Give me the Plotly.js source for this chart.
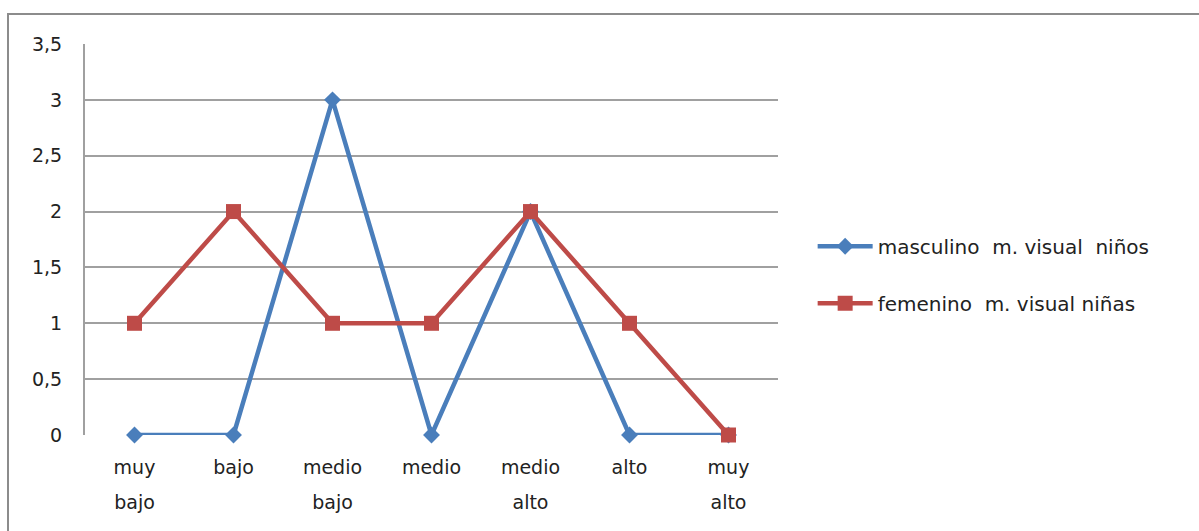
<!DOCTYPE html>
<html>
<head>
<meta charset="utf-8">
<script src="https://cdn.plot.ly/plotly-3.0.1.min.js"></script>
<style>
html,body{margin:0;padding:0;background:#fff;}
#wrap{position:relative;width:1199px;height:531px;overflow:hidden;}
#chart{position:absolute;left:0;top:0;width:1199px;height:531px;}
#frame{position:absolute;left:7px;top:13px;width:1300px;height:600px;border-left:2px solid #8c8c8c;border-top:2px solid #8c8c8c;pointer-events:none;}
</style>
</head>
<body>
<div id="wrap"><div id="chart"></div><div id="frame"></div></div>
<script>
const categories = ["muy bajo","bajo","medio bajo","medio","medio alto","alto","muy alto"];
const labelLine1 = ["muy","bajo","medio","medio","medio","alto","muy"];
const labelLine2 = ["bajo","","bajo","","alto","","alto"];
const masculino = [0,0,3,0,2,0,0];
const femenino = [1,2,1,1,2,1,0];
const seriesNames = ["masculino  m. visual  niños","femenino  m. visual niñas"];
const yTicks = [0,0.5,1,1.5,2,2.5,3,3.5];

const FONT = "DejaVu Sans";
const traces = [
  {x:categories, y:masculino, name:seriesNames[0], type:"scatter", mode:"lines+markers",
   legendgroup:"a", cliponaxis:false,
   line:{color:"#4A7EBB", width:4.5}, marker:{symbol:"diamond", size:13, color:"#4A7EBB"}},
  {x:categories, y:femenino, name:seriesNames[1], type:"scatter", mode:"lines+markers",
   legendgroup:"b", cliponaxis:false,
   line:{color:"#BE4B48", width:4.5}, marker:{symbol:"square", size:15, color:"#BE4B48"}},
  {x:categories, y:categories.map(()=>null), xaxis:"x2", showlegend:false, hoverinfo:"skip",
   type:"scatter", mode:"lines"}
];
const layout = {
  width:1199, height:531,
  margin:{l:85, r:421, t:44, b:96},
  paper_bgcolor:"#ffffff", plot_bgcolor:"#ffffff",
  separators:",.",
  font:{family:FONT, size:19, color:"#222"},
  showlegend:true,
  legend:{x:1.05, y:0.41, xanchor:"left", yanchor:"middle", traceorder:"grouped", tracegroupgap:28,
          font:{family:FONT, size:20, color:"#222"}, itemwidth:55, bgcolor:"rgba(0,0,0,0)"},
  xaxis:{type:"category", range:[-0.5,6.5], tickvals:categories, ticktext:labelLine1,
         showgrid:false, zeroline:false, showline:false, ticks:"", ticklabelstandoff:19,
         tickfont:{family:FONT, size:19, color:"#222"}, fixedrange:true},
  xaxis2:{type:"category", overlaying:"x", anchor:"y", side:"bottom", range:[-0.5,6.5],
          tickvals:categories, ticktext:labelLine2, showgrid:false, zeroline:false, showline:false,
          ticks:"", ticklabelstandoff:54, tickfont:{family:FONT, size:19, color:"#222"}},
  yaxis:{range:[0,3.5], tickvals:yTicks, showgrid:true, gridcolor:"#a0a0a0", gridwidth:2,
         zeroline:false, showline:true, linecolor:"#a0a0a0", linewidth:2, mirror:false,
         ticks:"", ticklabelstandoff:17, tickformat:".1~f",
         tickfont:{family:FONT, size:19, color:"#222"}, fixedrange:true}
};
Plotly.newPlot("chart", traces, layout, {displayModeBar:false, staticPlot:true});
</script>
</body>
</html>
